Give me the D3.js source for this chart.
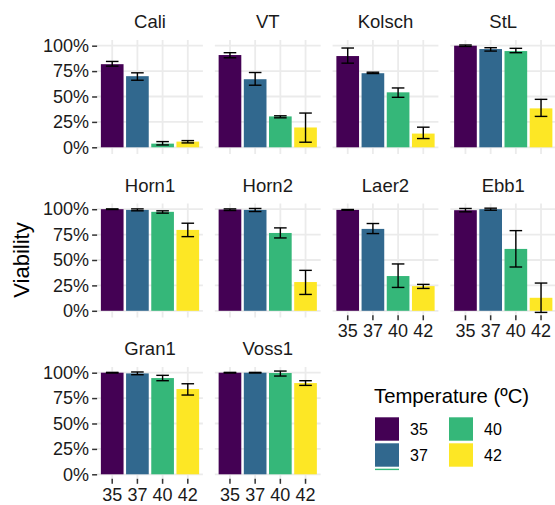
<!DOCTYPE html>
<html>
<head>
<meta charset="utf-8">
<script src="https://cdn.jsdelivr.net/npm/d3@7"></script>
<style>
  body { margin: 0; background: #fff; }
  text { font-family: "Liberation Sans", Arial, Helvetica, sans-serif; }
</style>
</head>
<body>
<svg width="555" height="505"></svg>
<script>
// chart data
const strains = ["Cali", "VT", "Kolsch", "StL", "Horn1", "Horn2", "Laer2", "Ebb1", "Gran1", "Voss1"];
const temps = ["35", "37", "40", "42"];
const colors = ["#440154", "#31688E", "#35B779", "#FDE725"];
const yTicks = [0, 0.25, 0.5, 0.75, 1];

const viability = [
    [0.818, 0.700, 0.036, 0.056],
    [0.908, 0.670, 0.304, 0.195],
    [0.898, 0.729, 0.541, 0.135],
    [1.000, 0.967, 0.947, 0.383],
    [1.000, 0.993, 0.974, 0.796],
    [0.997, 0.993, 0.766, 0.283],
    [0.993, 0.806, 0.342, 0.243],
    [0.990, 1.000, 0.609, 0.128],
    [1.000, 0.993, 0.947, 0.839],
    [1.000, 1.000, 0.997, 0.898]
];
const errLow = [
    [0.799, 0.660, 0.023, 0.043],
    [0.881, 0.611, 0.290, 0.050],
    [0.828, 0.726, 0.492, 0.086],
    [0.993, 0.947, 0.931, 0.304],
    [0.997, 0.984, 0.961, 0.730],
    [0.987, 0.977, 0.717, 0.161],
    [0.990, 0.760, 0.230, 0.220],
    [0.974, 0.990, 0.431, -0.016],
    [0.997, 0.980, 0.921, 0.780],
    [0.997, 0.997, 0.967, 0.875]
];
const errHigh = [
    [0.845, 0.733, 0.056, 0.066],
    [0.931, 0.736, 0.310, 0.337],
    [0.977, 0.739, 0.584, 0.198],
    [1.007, 0.980, 0.974, 0.472],
    [1.003, 1.003, 0.984, 0.862],
    [1.003, 1.007, 0.816, 0.398],
    [0.997, 0.859, 0.461, 0.260],
    [1.007, 1.010, 0.789, 0.273],
    [1.003, 1.007, 0.974, 0.891],
    [1.003, 1.003, 1.016, 0.921]
];

const svg = d3.select("svg");

const nCol = 4;
const panelW = 105.8;
const panelH = 114;
const colStep = 117.75;
const rowStep = 163.5;
const left0 = 97.1;
const top0 = 40;

const x = d3.scaleBand()
    .domain(temps)
    .range([0, panelW])
    .paddingInner(0.1)
    .paddingOuter(0.15);
const step = x.step();

const y = d3.scaleLinear()
    .domain([-0.066, 1.056])
    .range([panelH, 0]);

const color = d3.scaleOrdinal().domain(temps).range(colors);

// which panel is last in its column (gets x axis)
function isBottom(i) {
    return i + nCol >= strains.length;
}

strains.forEach((name, i) => {
    const col = i % nCol;
    const row = Math.floor(i / nCol);
    const g = svg.append("g")
        .attr("transform", `translate(${left0 + col * colStep},${top0 + row * rowStep})`);

    // grid
    g.selectAll("line.hgrid")
        .data(yTicks)
        .enter()
        .append("line")
        .attr("x1", 0).attr("x2", panelW)
        .attr("y1", d => y(d)).attr("y2", d => y(d))
        .attr("stroke", "#ebebeb")
        .attr("stroke-width", 1.8);
    g.selectAll("line.vgrid")
        .data(temps)
        .enter()
        .append("line")
        .attr("x1", d => x(d) + x.bandwidth() / 2)
        .attr("x2", d => x(d) + x.bandwidth() / 2)
        .attr("y1", 0).attr("y2", panelH)
        .attr("stroke", "#ebebeb")
        .attr("stroke-width", 1.8);

    const rows = temps.map((t, j) => ({
        t: t, v: viability[i][j], lo: errLow[i][j], hi: errHigh[i][j]
    }));

    // bars
    g.selectAll("rect.bar")
        .data(rows)
        .enter()
        .append("rect")
        .attr("x", d => x(d.t))
        .attr("width", x.bandwidth())
        .attr("y", d => y(d.v))
        .attr("height", d => y(0) - y(d.v))
        .attr("fill", d => color(d.t));

    // error bars
    const capW = step * 0.5;
    const eb = g.selectAll("g.err")
        .data(rows)
        .enter()
        .append("g")
        .attr("stroke", "#000")
        .attr("stroke-width", 1.4);
    eb.append("line")
        .attr("x1", d => x(d.t) + x.bandwidth() / 2)
        .attr("x2", d => x(d.t) + x.bandwidth() / 2)
        .attr("y1", d => y(d.lo)).attr("y2", d => y(d.hi));
    eb.append("line")
        .attr("x1", d => x(d.t) + x.bandwidth() / 2 - capW / 2)
        .attr("x2", d => x(d.t) + x.bandwidth() / 2 + capW / 2)
        .attr("y1", d => y(d.lo)).attr("y2", d => y(d.lo));
    eb.append("line")
        .attr("x1", d => x(d.t) + x.bandwidth() / 2 - capW / 2)
        .attr("x2", d => x(d.t) + x.bandwidth() / 2 + capW / 2)
        .attr("y1", d => y(d.hi)).attr("y2", d => y(d.hi));

    // strip title
    g.append("text")
        .attr("x", panelW / 2)
        .attr("y", -12)
        .attr("text-anchor", "middle")
        .attr("font-size", 18.5)
        .attr("fill", "#1a1a1a")
        .text(name);

    // y axis
    if (col === 0) {
        const ya = g.append("g")
            .call(d3.axisLeft(y).tickValues(yTicks).tickFormat(d3.format(".0%")).tickSize(5).tickPadding(3));
        ya.select(".domain").remove();
        ya.selectAll(".tick line").attr("stroke", "#333").attr("stroke-width", 1.5);
        ya.selectAll(".tick text")
            .attr("font-size", 18)
            .attr("fill", "#1a1a1a")
            .attr("font-family", "Liberation Sans, Arial, sans-serif");
    }

    // x axis
    if (isBottom(i)) {
        const xa = g.append("g")
            .attr("transform", `translate(0,${y(0) + 4.5})`)
            .call(d3.axisBottom(x).tickSize(5).tickPadding(4));
        xa.select(".domain").remove();
        xa.selectAll(".tick line").attr("stroke", "#333").attr("stroke-width", 1.5);
        xa.selectAll(".tick text")
            .attr("font-size", 18)
            .attr("fill", "#1a1a1a")
            .attr("font-family", "Liberation Sans, Arial, sans-serif");
    }
});

// y axis title
svg.append("text")
    .attr("transform", "translate(29,260) rotate(-90)")
    .attr("text-anchor", "middle")
    .attr("font-size", 22)
    .attr("fill", "#000")
    .text("Viability");

// legend
const legend = svg.append("g").attr("transform", "translate(374,0)");
legend.append("text")
    .attr("x", 0)
    .attr("y", 402.5)
    .attr("font-size", 20.3)
    .attr("fill", "#000")
    .text("Temperature (ºC)");

const keyW = 24, keyH = 23.4, keyGapY = 26, keyGapX = 74;
const items = legend.selectAll("g.key")
    .data(temps)
    .enter()
    .append("g")
    .attr("transform", (d, i) => `translate(${1 + Math.floor(i / 2) * keyGapX},${417.3 + (i % 2) * keyGapY})`);
items.append("rect")
    .attr("width", keyW)
    .attr("height", keyH)
    .attr("fill", d => color(d));
items.append("text")
    .attr("x", 35)
    .attr("y", keyH / 2)
    .attr("dy", "0.36em")
    .attr("font-size", 16)
    .attr("fill", "#000")
    .text(d => d);
// thin sliver of the next key under "37"
legend.append("rect")
    .attr("x", 1)
    .attr("y", 417.3 + 2 * keyGapY - 0.6)
    .attr("width", keyW)
    .attr("height", 1.4)
    .attr("fill", color("40"));
</script>
</body>
</html>
